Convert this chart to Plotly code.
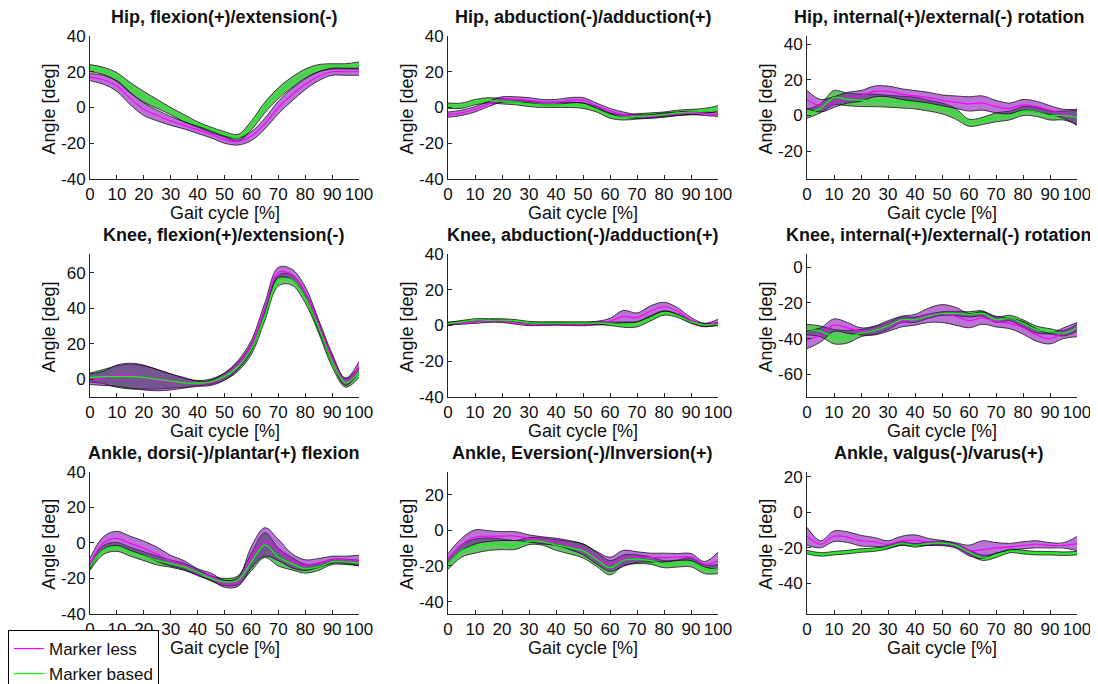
import plotly.graph_objects as go

# ---------------- data (gait cycle every 5 %) ----------------
X = list(range(0, 101, 5))

titles = [
    "Hip, flexion(+)/extension(-)",
    "Hip, abduction(-)/adduction(+)",
    "Hip, internal(+)/external(-) rotation",
    "Knee, flexion(+)/extension(-)",
    "Knee, abduction(-)/adduction(+)",
    "Knee, internal(+)/external(-) rotation",
    "Ankle, dorsi(-)/plantar(+) flexion",
    "Ankle, Eversion(-)/Inversion(+)",
    "Ankle, valgus(-)/varus(+)",
]

hip_flex_ml = [17, 15.5, 12, 5, -1, -4.5, -7.5, -10, -12.5, -15, -18, -19, -16, -9, 0, 7, 13, 17.5, 20, 20, 20]
hip_flex_ml_sd = [2, 2.5, 3, 3.5, 3.5, 3, 2.5, 2, 2, 2, 2, 2, 2.5, 3, 3.5, 3.5, 3, 2.5, 2, 2, 2]
hip_flex_mb = [22, 20.5, 17, 11, 6, 2, -2, -6, -9.5, -12.5, -15, -17, -10, 0, 8, 14, 19, 22, 23, 23, 23.5]
hip_flex_mb_sd = [2, 2, 2.5, 3, 3, 2.5, 2, 2, 1.5, 1.5, 1.5, 2, 2.5, 3, 3, 3, 2.5, 2, 1.5, 1.5, 2]

hip_abd_ml = [-4, -3, -1, 2, 4.5, 4.5, 4, 3, 3, 4, 4, 1, -2, -4, -5, -5, -4, -3.5, -3, -3.5, -4]
hip_abd_ml_sd = [1.5, 1.5, 1.5, 1.5, 1.5, 1.5, 1.5, 1.5, 1.5, 1.5, 1.5, 1.5, 1.5, 1.5, 1, 1, 1, 1, 1, 1, 1]
hip_abd_mb = [1, 1, 3, 4, 3.5, 3, 2, 1.5, 1.5, 1.5, 1, -1, -4.5, -5.5, -5, -4.5, -4, -3, -2.5, -2, -0.5]
hip_abd_mb_sd = [1.5, 1.5, 1.5, 1.5, 1.5, 1.5, 1.5, 1.5, 1.5, 1.5, 1.5, 1.5, 1.5, 1.5, 1.5, 1.5, 1.5, 1.5, 1.5, 1.5, 1.5]

hip_rot_ml = [9, 5.5, 7.5, 10, 11, 13.5, 13.5, 12, 11, 10, 8.5, 7.5, 6.5, 7, 5, 4, 6, 5, 3, 1, -1]
hip_rot_ml_sd = [5, 3.5, 3, 3, 3, 3, 3, 3, 3, 3, 3, 3.5, 4, 4, 3.5, 3, 3, 3, 2.5, 2.5, 4.5]
hip_rot_mb = [1, 4, 10, 9, 8.5, 8.5, 8, 7.5, 7, 5.5, 4, 1, -4, -3, -1, 0, 2.5, 2, 0, 0, -1]
hip_rot_mb_sd = [2.5, 2.5, 4, 3.5, 3.5, 3.5, 3.3, 3.3, 3.3, 3, 3, 3, 2, 2, 2.5, 2.5, 2.5, 2.5, 2.5, 2.5, 4]

knee_flex_ml = [0, 0.5, 2, 2, 1, -0.5, -1.5, -2, -2.5, -2, 1.5, 8, 19, 40, 60, 59, 49, 30.5, 12, -1.5, 7]
knee_flex_ml_sd = [3, 4, 6, 7, 7, 6, 4.5, 3, 1.5, 1.5, 2, 2.5, 3, 3, 3, 3, 3, 3, 2.5, 2, 3]
knee_flex_mb = [1, 1.5, 1.5, 1.5, 1, 0, -1, -2, -2.2, -1.3, 1.5, 7, 17, 36, 55.5, 56, 46, 29, 10, -2, 4]
knee_flex_mb_sd = [2.5, 4, 6, 7, 6.5, 5.5, 4, 2.5, 1.5, 1.5, 2, 2.5, 3, 3, 3, 3, 3, 3, 3, 2.5, 3]

knee_abd_ml = [1, 1.5, 2, 2.5, 2.5, 1.5, 0.7, 0.8, 1, 0.8, 0.7, 1.3, 2.5, 5, 4.5, 8, 10.5, 8, 3, 0.3, 2]
knee_abd_ml_sd = [0.8, 0.8, 0.8, 0.8, 0.8, 0.8, 0.8, 0.8, 0.8, 0.8, 0.8, 1, 1.5, 3.5, 2.5, 3, 2.5, 2, 1.5, 1, 1.5]
knee_abd_mb = [1, 2, 3, 3, 3, 2.5, 1.5, 1.3, 1.3, 1.3, 1.3, 1.3, 1, 0.5, 0.7, 4, 7, 5.5, 2, 0.3, 0.7]
knee_abd_mb_sd = [0.8, 0.8, 0.8, 0.8, 0.8, 0.8, 0.8, 0.8, 0.8, 0.8, 0.8, 0.8, 1, 1.5, 1.5, 1.5, 1.2, 1, 0.8, 0.8, 0.8]

knee_rot_ml = [-40.7, -38, -32.5, -34, -36, -35.5, -33, -30.5, -29.5, -27, -26, -27.5, -30, -28.5, -30.5, -31.5, -34, -38, -40, -37, -35]
knee_rot_ml_sd = [5, 4, 3.5, 3, 2, 2.5, 3, 3, 3, 4, 5, 5, 4, 3.5, 3, 3, 3.5, 3.5, 3, 3, 4]
knee_rot_mb = [-35, -36, -39, -39, -37, -35.5, -33, -29.5, -29.5, -27.5, -26, -26, -26.5, -26, -29.5, -28.5, -31.5, -35, -36, -37, -34]
knee_rot_mb_sd = [3, 3, 4, 3.5, 2, 2, 2, 1.5, 1.5, 1.2, 1, 1.2, 1.5, 1.5, 1.5, 1.5, 2, 2, 1.5, 1.5, 2]

ankle_flex_ml = [-11.7, 0, 2.5, -0.3, -3, -6.5, -10, -12.5, -16.5, -19, -23, -22, -8, 0.5, -4, -10, -12.5, -11.3, -9.5, -9.5, -10]
ankle_flex_ml_sd = [3, 3.5, 4, 4, 4, 4, 3, 2.5, 2, 2, 2, 2.5, 6, 8, 6, 4, 3, 2.5, 2, 2, 3]
ankle_flex_mb = [-13.5, -4, -2.3, -5, -7.5, -10, -11.7, -13.5, -16.5, -20, -22, -21, -10.7, -1.3, -8, -11.7, -14.5, -13.5, -10.7, -10.7, -11.3]
ankle_flex_mb_sd = [2, 2.5, 2.5, 2.5, 2.5, 2.5, 2, 2, 1.5, 1.5, 2, 2.5, 5, 7, 5, 3.5, 2.5, 2, 1.5, 1.5, 1.5]

ankle_inv_ml = [-16, -8, -3.7, -3.2, -3.2, -3.2, -4.5, -5.6, -6.4, -8.2, -10.7, -15.3, -19, -15.7, -15, -15.3, -15.3, -15, -15, -19, -17.2]
ankle_inv_ml_sd = [3, 3.5, 4, 3, 2.5, 2.5, 2, 2, 2, 2.5, 3, 3.5, 4, 4.5, 3, 2.5, 2.5, 2, 2, 1.5, 5]
ankle_inv_mb = [-19, -11.6, -8.8, -7.8, -7.8, -8.2, -6, -6.3, -8.2, -9.7, -11.5, -16.2, -21, -16.8, -16.2, -17, -19, -18.6, -18, -21.8, -21.8]
ankle_inv_mb_sd = [3, 3.5, 4, 3.5, 3, 2.5, 2, 2, 3, 3.5, 4, 4, 4, 3, 2.5, 2, 2, 2, 2.5, 2.5, 2.5]

ankle_var_ml = [-13.5, -18, -13.5, -14, -16, -16.7, -18, -16, -15.7, -16.7, -17.3, -18.6, -21.5, -21, -20, -19.5, -18.6, -18, -18.6, -18.6, -17.6]
ankle_var_ml_sd = [5, 2, 3, 3, 3, 2.5, 2, 2.5, 3, 2, 1.5, 1.5, 3, 5, 3, 2, 2, 2, 1.5, 1.5, 4]
ankle_var_mb = [-22.4, -23.7, -23, -22.4, -21.5, -21, -19.6, -17.6, -18.6, -17.6, -17.3, -18.6, -22.4, -25.6, -24.3, -21.8, -22.4, -23, -23, -23.3, -23]
ankle_var_mb_sd = [1, 1, 1, 1, 1, 1, 1, 1, 1, 1, 1, 1, 1.2, 1.5, 1.2, 1, 1, 1, 1, 1, 1]

y_ranges = [[-40, 40], [-40, 40], [-35.5, 44.5],
            [-10, 70.5], [-40, 40], [-72.7, 7.3],
            [-40, 40], [-47, 33], [-57.2, 22.8]]
y_ticks = [[-40, -20, 0, 20, 40], [-40, -20, 0, 20, 40], [-20, 0, 20, 40],
           [0, 20, 40, 60], [-40, -20, 0, 20, 40], [-60, -40, -20, 0],
           [-40, -20, 0, 20, 40], [-40, -20, 0, 20], [-40, -20, 0, 20]]
x_ticks = list(range(0, 101, 10))

series = [
    (hip_flex_ml, hip_flex_ml_sd, hip_flex_mb, hip_flex_mb_sd),
    (hip_abd_ml, hip_abd_ml_sd, hip_abd_mb, hip_abd_mb_sd),
    (hip_rot_ml, hip_rot_ml_sd, hip_rot_mb, hip_rot_mb_sd),
    (knee_flex_ml, knee_flex_ml_sd, knee_flex_mb, knee_flex_mb_sd),
    (knee_abd_ml, knee_abd_ml_sd, knee_abd_mb, knee_abd_mb_sd),
    (knee_rot_ml, knee_rot_ml_sd, knee_rot_mb, knee_rot_mb_sd),
    (ankle_flex_ml, ankle_flex_ml_sd, ankle_flex_mb, ankle_flex_mb_sd),
    (ankle_inv_ml, ankle_inv_ml_sd, ankle_inv_mb, ankle_inv_mb_sd),
    (ankle_var_ml, ankle_var_ml_sd, ankle_var_mb, ankle_var_mb_sd),
]

# ---------------- style / layout ----------------
# the page body has an 8 px default margin, so the figure is drawn 8 px in
OFF = 8
W, H = 1098 - OFF, 684 - OFF
FONT = "Liberation Sans, Arial, Helvetica, sans-serif"
FS = 18
TFS = 17
LFS = 17
TXT = "#111111"
AXC = "#262626"
ML_LINE = "#ff00ff"
MB_LINE = "#00ff00"
ML_FILL = "rgba(128,0,178,0.55)"
MB_FILL = "rgba(0,153,0,0.6)"
EDGE = dict(color="#000000", width=0.7, shape="spline")

col_px = [(90, 359), (448, 718), (807, 1077)]
row_px = [(36, 179), (254, 397), (471.7, 614)]
title_cx = [224, 583, 939]


def fx(p):
    return (p - OFF) / W


def fy(p):
    return 1 - (p - OFF) / H


fig = go.Figure()
layout = dict(
    width=W, height=H,
    margin=dict(l=0, r=0, t=0, b=0, autoexpand=False),
    paper_bgcolor="white", plot_bgcolor="white",
    font=dict(family=FONT, size=FS, color=TXT),
    showlegend=True,
    legend=dict(xref="container", yref="container",
                x=fx(8), y=fy(630), xanchor="left", yanchor="top",
                bgcolor="white", bordercolor="#000000", borderwidth=1,
                font=dict(family=FONT, size=LFS, color=TXT),
                traceorder="normal", tracegroupgap=0, itemwidth=30),
)
annotations = []

for i, (ml, ml_sd, mb, mb_sd) in enumerate(series):
    r, c = divmod(i, 3)
    x0, x1 = col_px[c]
    ytop, ybot = row_px[r]
    xs = "x" if i == 0 else f"x{i + 1}"
    ys = "y" if i == 0 else f"y{i + 1}"
    xk = "xaxis" if i == 0 else f"xaxis{i + 1}"
    yk = "yaxis" if i == 0 else f"yaxis{i + 1}"

    mb_lo = [m - s for m, s in zip(mb, mb_sd)]
    mb_hi = [m + s for m, s in zip(mb, mb_sd)]
    ml_lo = [m - s for m, s in zip(ml, ml_sd)]
    ml_hi = [m + s for m, s in zip(ml, ml_sd)]

    # marker based band
    fig.add_trace(go.Scatter(x=X, y=mb_lo, mode="lines", line=EDGE,
                             showlegend=False, hoverinfo="skip", xaxis=xs, yaxis=ys))
    fig.add_trace(go.Scatter(x=X, y=mb_hi, mode="lines", line=EDGE, fill="tonexty",
                             fillcolor=MB_FILL, showlegend=False, hoverinfo="skip",
                             xaxis=xs, yaxis=ys))
    # marker less band
    fig.add_trace(go.Scatter(x=X, y=ml_lo, mode="lines", line=EDGE,
                             showlegend=False, hoverinfo="skip", xaxis=xs, yaxis=ys))
    fig.add_trace(go.Scatter(x=X, y=ml_hi, mode="lines", line=EDGE, fill="tonexty",
                             fillcolor=ML_FILL, showlegend=False, hoverinfo="skip",
                             xaxis=xs, yaxis=ys))
    # mean lines
    fig.add_trace(go.Scatter(x=X, y=ml, mode="lines", name="Marker less",
                             line=dict(color=ML_LINE, width=1.2, shape="spline"),
                             showlegend=(i == 0), xaxis=xs, yaxis=ys))
    fig.add_trace(go.Scatter(x=X, y=mb, mode="lines", name="Marker based",
                             line=dict(color=MB_LINE, width=1.2, shape="spline"),
                             showlegend=(i == 0), xaxis=xs, yaxis=ys))

    axis_common = dict(showline=True, linecolor=AXC, linewidth=1, mirror=False,
                       showgrid=False, zeroline=False, ticks="inside", ticklen=4,
                       tickcolor=AXC, tickwidth=1, automargin=False, tickangle=0,
                       tickfont=dict(family=FONT, size=TFS, color=TXT))
    layout[xk] = dict(axis_common, domain=[fx(x0), fx(x1)], anchor=ys,
                      range=[0, 100], tickvals=x_ticks, ticktext=[str(t) for t in x_ticks])
    layout[yk] = dict(axis_common, domain=[fy(ybot), fy(ytop)], anchor=xs,
                      range=y_ranges[i], tickvals=y_ticks[i],
                      ticktext=[str(t) for t in y_ticks[i]])

    xc = (x0 + x1) / 2
    annotations.append(dict(text=f"<b>{titles[i]}</b>", x=fx(title_cx[c]), y=fy(ytop - 19),
                            xref="paper", yref="paper", xanchor="center", yanchor="middle",
                            showarrow=False, font=dict(family=FONT, size=FS, color=TXT)))
    annotations.append(dict(text="Gait cycle [%]", x=fx(xc), y=fy(ybot + 34),
                            xref="paper", yref="paper", xanchor="center", yanchor="middle",
                            showarrow=False, font=dict(family=FONT, size=FS, color=TXT)))
    annotations.append(dict(text="Angle [deg]", x=fx(x0 - 41),
                            y=fy((ytop + ybot) / 2 + 2), textangle=-90,
                            xref="paper", yref="paper", xanchor="center", yanchor="middle",
                            showarrow=False, font=dict(family=FONT, size=FS, color=TXT)))

layout["annotations"] = annotations
fig.update_layout(**layout)
fig.write_html("out.html")
